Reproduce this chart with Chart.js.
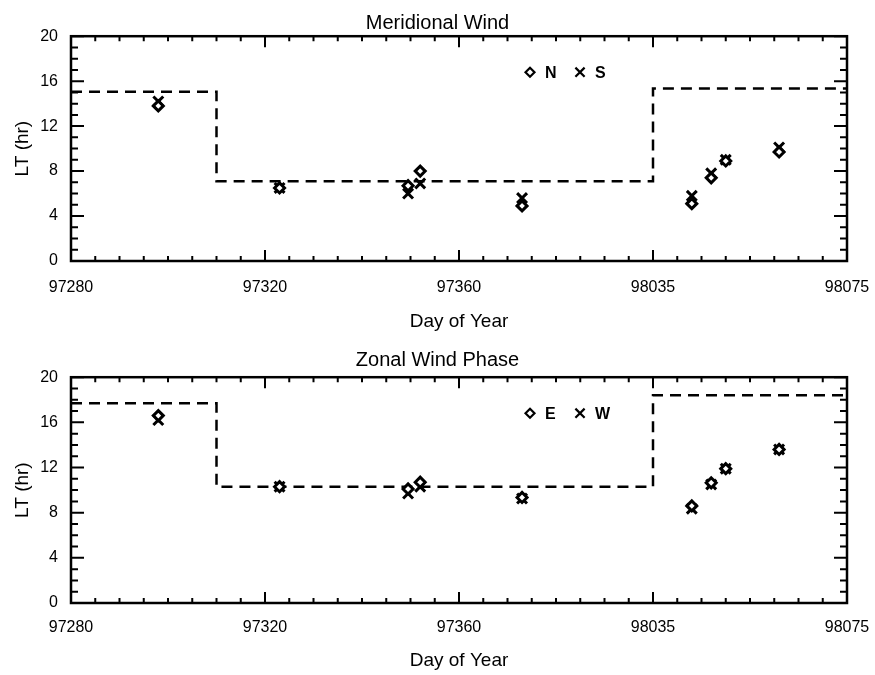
<!DOCTYPE html>
<html>
<head>
<meta charset="utf-8">
<title>Meridional / Zonal Wind Phase</title>
<script src="https://cdn.jsdelivr.net/npm/chart.js@4/dist/chart.umd.min.js"></script>
<style>
    html, body { margin: 0; padding: 0; background: #fff; }
    .panel { position: absolute; left: 0; width: 875px; }
    #topPanel { top: 0; height: 335px; }
    #bottomPanel { top: 335px; height: 340px; }
</style>
</head>
<body>
<div class="panel" id="topPanel"><canvas id="merChart" width="875" height="335"></canvas></div>
<div class="panel" id="bottomPanel"><canvas id="zonChart" width="875" height="340"></canvas></div>

<script>
/* =========================
   DATA
   days run on continuously: 97xxx -> xxx, 98xxx -> 365 + xxx
========================== */
const xTickValues = [280, 320, 360, 400, 440];
const xTickLabels = ["97280", "97320", "97360", "98035", "98075"];
const yTickStep = 4;

const obsDays = [298, 323, 349.5, 352, 373, 408, 412, 415, 426];

const merN = [13.8, 6.5, 6.7, 8.0, 4.9, 5.1, 7.4, 8.9, 9.7];
const merS = [14.2, 6.5, 6.0, 6.9, 5.6, 5.8, 7.8, 9.0, 10.1];

const zonE = [16.6, 10.3, 10.1, 10.7, 9.35, 8.6, 10.65, 11.9, 13.6];
const zonW = [16.2, 10.3, 9.7, 10.3, 9.25, 8.35, 10.5, 11.9, 13.6];

const stepDays = [280, 310, 310, 400, 400, 440];
const merStep = [15.05, 15.05, 7.1, 7.1, 15.35, 15.35];
const zonStep = [17.7, 17.7, 10.3, 10.3, 18.4, 18.4];

/* =========================
   STYLE
========================== */
const FONT = "'Liberation Sans', Arial, Helvetica, sans-serif";
Chart.defaults.color = "#000";
Chart.defaults.font.family = FONT;

const toPoints = (xs, ys) => xs.map((x, i) => ({ x, y: ys[i] }));

/* =========================
   PLUGINS
========================== */
// box frame + inward ticks on all four sides
const frameTicks = {
    id: "frameTicks",
    afterDraw(chart) {
        const { ctx, chartArea: a, scales } = chart;
        const xs = scales.x, ys = scales.y;
        ctx.save();
        ctx.strokeStyle = "#000";
        ctx.lineWidth = 2;
        ctx.beginPath();
        for (let v = xs.min; v <= xs.max + 0.001; v += 5) {
            const px = xs.getPixelForValue(v);
            const len = (v - xs.min) % 40 === 0 ? 11 : 5;
            ctx.moveTo(px, a.bottom); ctx.lineTo(px, a.bottom - len);
            ctx.moveTo(px, a.top); ctx.lineTo(px, a.top + len);
        }
        for (let v = ys.min; v <= ys.max + 0.001; v += 1) {
            const py = ys.getPixelForValue(v);
            const len = v % yTickStep === 0 ? 13 : 7;
            ctx.moveTo(a.left, py); ctx.lineTo(a.left + len, py);
            ctx.moveTo(a.right, py); ctx.lineTo(a.right - len, py);
        }
        ctx.stroke();
        ctx.lineWidth = 2.5;
        ctx.strokeRect(a.left, a.top, a.right - a.left, a.bottom - a.top);
        ctx.restore();
    }
};

function drawMarker(ctx, style, x, y, r) {
    ctx.beginPath();
    if (style === "rectRot") {
        ctx.moveTo(x - r, y); ctx.lineTo(x, y - r);
        ctx.lineTo(x + r, y); ctx.lineTo(x, y + r);
        ctx.closePath();
        ctx.fillStyle = "#fff";
        ctx.fill();
    } else {
        const d = r * Math.SQRT1_2;
        ctx.moveTo(x - d, y - d); ctx.lineTo(x + d, y + d);
        ctx.moveTo(x + d, y - d); ctx.lineTo(x - d, y + d);
    }
    ctx.stroke();
}

// small "◇ N  × S" key inside the plot
const markerKey = {
    id: "markerKey",
    afterDraw(chart) {
        const { ctx, chartArea: a } = chart;
        const x0 = a.left + 0.5915 * (a.right - a.left);
        const y0 = a.top + 36;
        ctx.save();
        ctx.strokeStyle = "#000";
        ctx.lineWidth = 2.2;
        ctx.font = "bold 16px " + FONT;
        ctx.textBaseline = "middle";
        chart.data.datasets.filter(ds => !ds.showLine).forEach((ds, i) => {
            const x = x0 + i * 50;
            drawMarker(ctx, ds.pointStyle, x, y0, ds.pointStyle === "rectRot" ? 4.5 : 6.5);
            ctx.fillStyle = "#000";
            ctx.fillText(ds.label, x + 15, y0 + 1);
        });
        ctx.restore();
    }
};

/* =========================
   CHART SETUP
========================== */
function makeChart(canvasId, title, labels, seriesA, seriesB, step, pad) {
    const ctx = document.getElementById(canvasId).getContext("2d");
    return new Chart(ctx, {
        type: "scatter",
        data: {
            datasets: [
                {
                    label: labels[0],
                    data: toPoints(obsDays, seriesA),
                    pointStyle: "rectRot",
                    pointRadius: 5,
                    borderWidth: 3,
                    borderColor: "#000",
                    backgroundColor: "#fff"
                },
                {
                    label: labels[1],
                    data: toPoints(obsDays, seriesB),
                    pointStyle: "crossRot",
                    pointRadius: 7,
                    borderWidth: 3,
                    borderColor: "#000",
                    backgroundColor: "#000"
                },
                {
                    label: "step",
                    data: toPoints(stepDays, step),
                    showLine: true,
                    pointRadius: 0,
                    borderColor: "#000",
                    borderWidth: 2.5,
                    borderDash: [11, 7]
                }
            ]
        },
        options: {
            responsive: false,
            animation: false,
            layout: { padding: 0 },
            plugins: {
                legend: { display: false },
                tooltip: { enabled: false },
                title: {
                    display: true,
                    text: title,
                    font: { size: 20, weight: "normal" },
                    padding: { top: pad.titleTop, bottom: pad.titleBottom }
                }
            },
            scales: {
                x: {
                    type: "linear",
                    min: xTickValues[0],
                    max: xTickValues[xTickValues.length - 1],
                    afterBuildTicks: s => { s.ticks = xTickValues.map(v => ({ value: v })); },
                    afterFit: s => {
                        s.height = pad.xHeight;
                        s.paddingLeft = 0;
                        s.paddingRight = 0;
                    },
                    grid: { display: false, drawTicks: false },
                    border: { display: false },
                    ticks: {
                        padding: pad.xTickPad,
                        maxRotation: 0,
                        font: { size: 16 },
                        callback: (v, i) => xTickLabels[i]
                    },
                    title: {
                        display: true,
                        text: "Day of Year",
                        font: { size: 19 },
                        padding: { top: 0, bottom: pad.xTitleBottom }
                    }
                },
                y: {
                    min: 0,
                    max: 20,
                    afterFit: s => { s.width = 71; },
                    grid: { display: false, drawTicks: false },
                    border: { display: false },
                    ticks: { stepSize: yTickStep, padding: 13, font: { size: 16 } },
                    title: {
                        display: true,
                        text: "LT (hr)",
                        font: { size: 19 },
                        padding: { top: 11, bottom: 0 }
                    }
                },
                // empty right-hand spacer so the plot ends at the reference frame edge
                yRight: {
                    position: "right",
                    min: 0,
                    max: 20,
                    afterFit: s => { s.width = 28; },
                    grid: { display: false, drawTicks: false },
                    border: { display: false },
                    ticks: { display: false }
                }
            }
        },
        plugins: [frameTicks, markerKey]
    });
}

document.addEventListener("DOMContentLoaded", () => {
    makeChart("merChart", "Meridional Wind", ["N", "S"], merN, merS, merStep,
        { titleTop: 11, titleBottom: 1.2, xHeight: 74, xTickPad: 17.4, xTitleBottom: 1.6 });
    makeChart("zonChart", "Zonal Wind Phase", ["E", "W"], zonE, zonW, zonStep,
        { titleTop: 13.6, titleBottom: 4.6, xHeight: 72, xTickPad: 14.9, xTitleBottom: 3.1 });
});
</script>
</body>
</html>
